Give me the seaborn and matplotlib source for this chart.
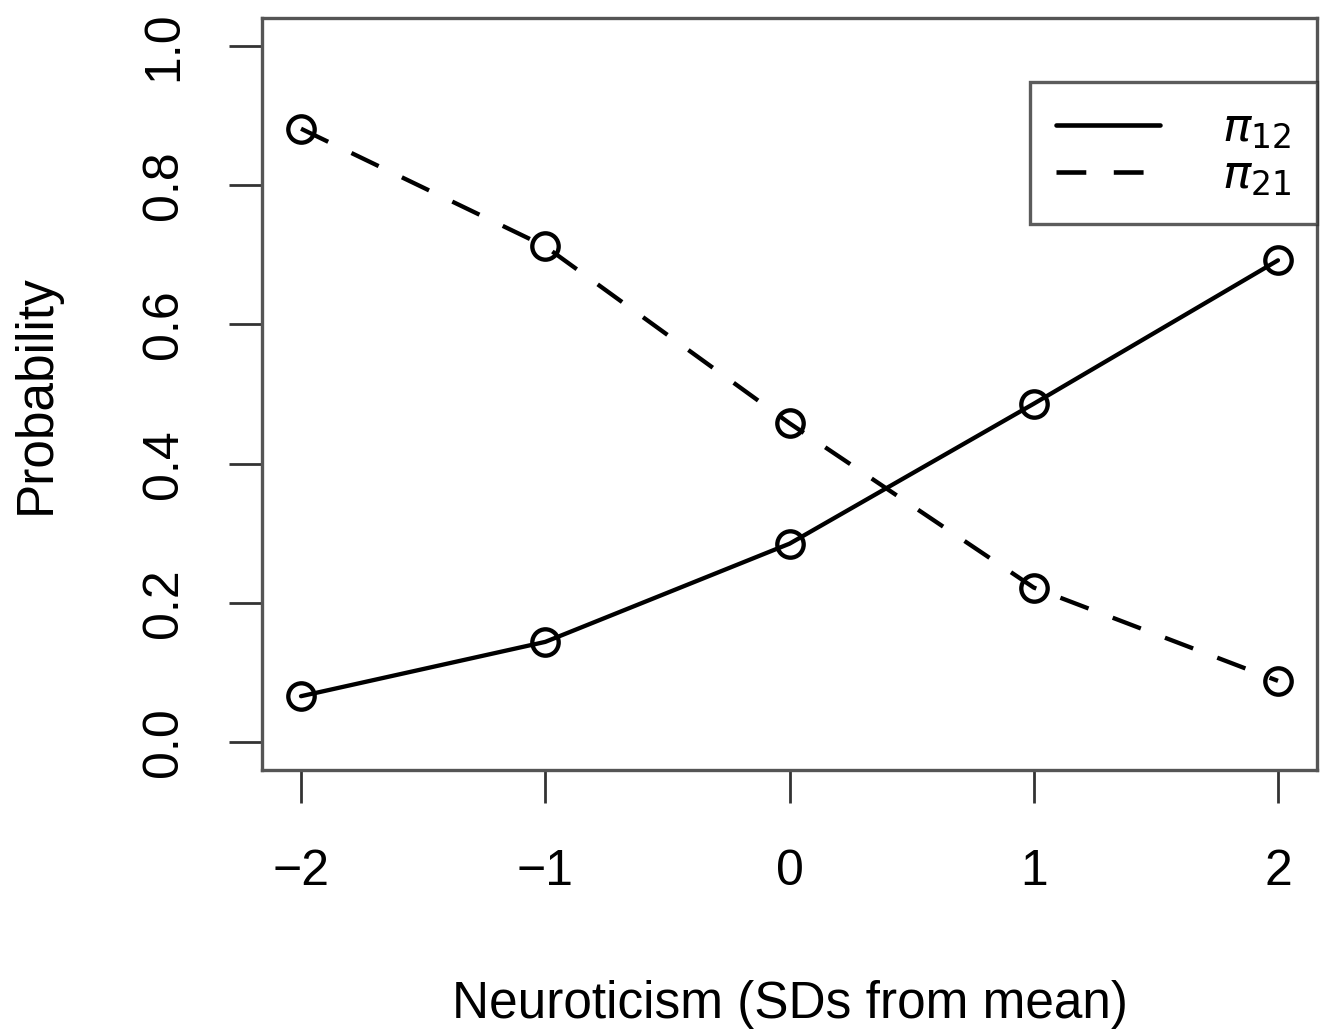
import matplotlib
matplotlib.use("Agg")
import matplotlib.pyplot as plt
from matplotlib.lines import Line2D
import numpy as np
import pandas as pd
import seaborn as sns

# values
neuroticism = [-2, -1, 0, 1, 2]
pi_12 = [0.066, 0.144, 0.285, 0.486, 0.692]
pi_21 = [0.881, 0.712, 0.458, 0.222, 0.088]
series_labels = [r"$\pi_{12}$", r"$\pi_{21}$"]
x_ticks = [-2, -1, 0, 1, 2]
x_tick_labels = ["\u22122", "\u22121", "0", "1", "2"]
y_ticks = [0.0, 0.2, 0.4, 0.6, 0.8, 1.0]

sns.set_theme(style="white")
plt.rcParams["font.family"] = ["Liberation Sans", "DejaVu Sans"]
plt.rcParams["mathtext.fontset"] = "dejavusans"
plt.rcParams["text.color"] = "black"
plt.rcParams["axes.labelcolor"] = "black"

df = pd.DataFrame({
    "x": neuroticism * 2,
    "prob": pi_12 + pi_21,
    "series": [series_labels[0]] * len(pi_12) + [series_labels[1]] * len(pi_21),
})

fig = plt.figure(figsize=(13.25, 10.29), dpi=100)
ax = fig.add_axes([0.1977, 0.2517, 0.7963, 0.7308])

sns.lineplot(data=df, x="x", y="prob", style="series",
             dashes={series_labels[0]: "", series_labels[1]: (7, 6)},
             color="black", marker="o", ax=ax, legend=False)

# seaborn sets its own marker/line widths, so fix them on the drawn lines
for line in ax.lines:
    dashed = line.get_linestyle() != "-"
    line.set_linewidth(3.1)
    line.set_marker("o")
    line.set_markersize(19)
    line.set_markerfacecolor("none")
    line.set_markeredgecolor("black")
    line.set_markeredgewidth(3.1)
    line.set_color("black")
    if dashed:
        line.set_dashes((7, 6))

ax.set_xlim(-2.16, 2.16)
ax.set_ylim(-0.04, 1.04)
ax.set_xticks(x_ticks)
ax.set_xticklabels(x_tick_labels)
ax.set_yticks(y_ticks)
ax.set_yticklabels([f"{v:.1f}" for v in y_ticks], rotation=90, va="center")

ax.tick_params(axis="both", direction="out", length=24, width=2.0,
               color="#333333", labelsize=36, labelcolor="black",
               bottom=True, left=True)
ax.tick_params(axis="x", pad=33)
ax.tick_params(axis="y", pad=30)
for sp in ax.spines.values():
    sp.set_visible(True)
    sp.set_color("#555555")
    sp.set_linewidth(2.4)

ax.set_xlabel("Neuroticism (SDs from mean)", fontsize=37, labelpad=61)
ax.set_ylabel("Probability", fontsize=37, labelpad=58)

handles = [Line2D([], [], color="black", lw=3.3, linestyle="-"),
           Line2D([], [], color="black", lw=3.3, dashes=(6.5, 6))]
leg = ax.legend(handles, series_labels, loc="upper right",
                bbox_to_anchor=(1.0, 0.915), fontsize=34, frameon=True,
                fancybox=False, edgecolor="#333333", handlelength=2.2,
                handletextpad=1.3, borderpad=0.55, labelspacing=0.05,
                borderaxespad=0.0)
leg.get_frame().set_linewidth(2.4)

fig.savefig("out.png", dpi=100)
